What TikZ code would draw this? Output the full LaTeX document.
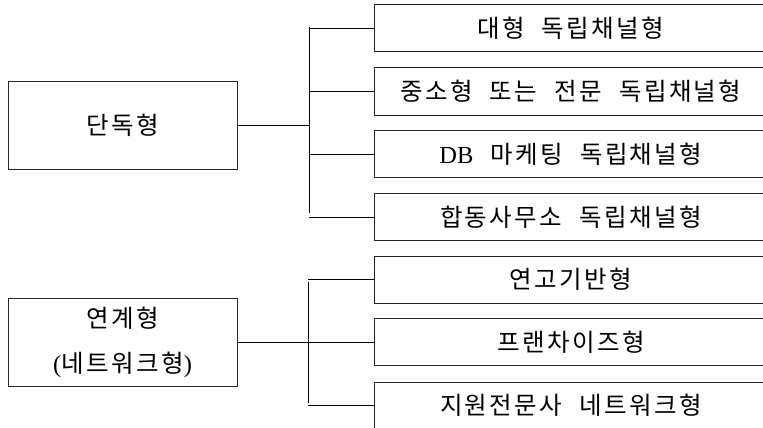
\documentclass[tikz,border=0pt]{standalone}
\usepackage{fontspec}
\setmainfont{Liberation Serif}
\newfontfamily\kr[LetterSpace=10]{Noto Sans CJK KR}
\newcommand\krwide{\spaceskip 17pt\relax}
\begin{document}
\begin{tikzpicture}[x=1pt,y=-1pt,line width=1pt,
  rbox/.style={draw=black!85,minimum width=394pt,minimum height=47pt,inner sep=0pt,
    font={\fontsize{24.5}{26}\selectfont\kr\krwide}},
  lbox/.style={draw=black!85,minimum width=229pt,minimum height=88pt,inner sep=0pt,align=center,
    font={\fontsize{24.5}{45}\selectfont\kr}},
  link/.style={draw=black,line width=1pt}]
\useasboundingbox (0,0) rectangle (763,428);
\clip (0,0) rectangle (763,428);
% left boxes
\node[lbox] (L1) at (122.5,125.5) {단독형};
\node[lbox] (L2) at (122.5,342) {연계형\\{\rmfamily(}네트워크형{\rmfamily)}};
% right boxes
\node[rbox] (R1) at (571,28.5) {대형 독립채널형};
\node[rbox] (R2) at (571,91.5) {중소형 또는 전문 독립채널형};
\node[rbox] (R3) at (571,154) {{\rmfamily DB} 마케팅 독립채널형};
\node[rbox] (R4) at (571,217) {합동사무소 독립채널형};
\node[rbox] (R5) at (571,279.5) {연고기반형};
\node[rbox] (R6) at (571,342) {프랜차이즈형};
\node[rbox] (R7) at (571,405.5) {지원전문사 네트워크형};
% trunks
\coordinate (T1a) at (309,27);
\coordinate (T1b) at (309,213);
\coordinate (T2a) at (308,282);
\coordinate (T2b) at (308,403);
\draw[link] (T1a) -- (T1b);
\draw[link] (T2a) -- (T2b);
\draw[link] (L1.east) -- (L1.east -| T1a);
\draw[link] (L2.east) -- (L2.east -| T2a);
\foreach \r in {R1,R2,R3,R4}{\draw[link] (\r.west -| T1a) -- (\r.west);}
\foreach \r in {R5,R6,R7}{\draw[link] (\r.west -| T2a) -- (\r.west);}
\end{tikzpicture}
\end{document}
